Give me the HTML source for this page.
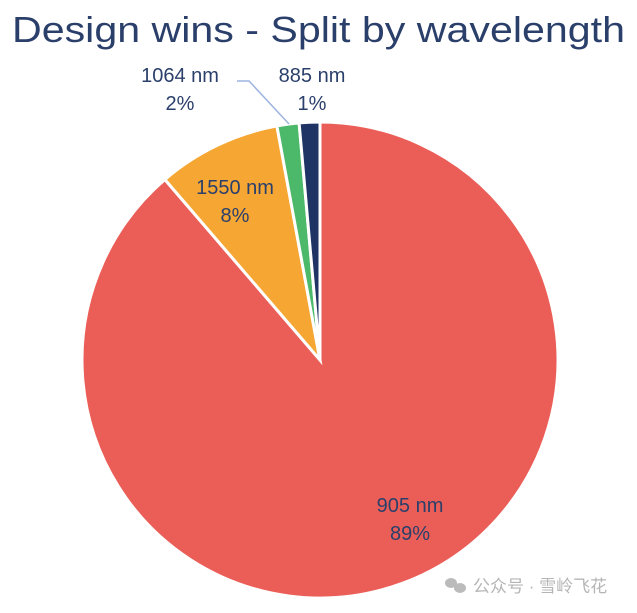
<!DOCTYPE html>
<html><head><meta charset="utf-8">
<style>
html,body{margin:0;padding:0;background:#fff;width:637px;height:613px;overflow:hidden}
svg{display:block;font-family:"Liberation Sans","Noto Sans CJK SC",sans-serif}
</style></head>
<body>
<svg id="chart" width="637" height="613" viewBox="0 0 637 613">
<text x="12" y="42" font-size="36" fill="#2b3f6b" textLength="613" lengthAdjust="spacingAndGlyphs">Design wins - Split by wavelength</text>
<g id="slices"></g>
<g id="labels" font-size="20" fill="#2b3f6b" text-anchor="middle"></g>
<polyline points="237,81 249,81 289,124" fill="none" stroke="#9db3e0" stroke-width="1.5"/>
<g>
<ellipse cx="451" cy="583" rx="6" ry="5" fill="#bbb"/>
<ellipse cx="460" cy="588" rx="6" ry="5" fill="#bbb"/>
<text x="473" y="592" font-size="17" fill="#b5b5b5">公众号 · 雪岭飞花</text>
</g>
</svg>
<script>
const categories = ["905 nm","1550 nm","1064 nm","885 nm"];
const values = [88.7, 8.4, 1.5, 1.4];
const pctLabels = ["89%","8%","2%","1%"];
const colors = ["#eb5e57","#f5a633","#4cb86a","#1f3464"];
const cx=320, cy=360, r=238;
const labelPos=[[410,518],[235,200],[180,88],[312,88]];
const total=values.reduce((a,b)=>a+b,0);
const ns="http://www.w3.org/2000/svg";
const gS=document.getElementById('slices'), gL=document.getElementById('labels');
function pt(a,rr){return [cx+rr*Math.sin(a), cy-rr*Math.cos(a)];}
let a0=0;
values.forEach((v,i)=>{
  const a1=a0+v/total*2*Math.PI;
  const p0=pt(a0,r), p1=pt(a1,r);
  const large=(a1-a0)>Math.PI?1:0;
  const p=document.createElementNS(ns,'path');
  p.setAttribute('d',`M${cx},${cy} L${p0[0]},${p0[1]} A${r},${r} 0 ${large} 1 ${p1[0]},${p1[1]} Z`);
  p.setAttribute('fill',colors[i]);
  p.setAttribute('stroke','#fff');
  p.setAttribute('stroke-width','3');
  
  
  gS.appendChild(p);
  const t=document.createElementNS(ns,'text');
  t.setAttribute('x',labelPos[i][0]);t.setAttribute('y',labelPos[i][1]-6);
  t.textContent=categories[i];
  
  
  gL.appendChild(t);
  const t2=document.createElementNS(ns,'text');
  t2.setAttribute('x',labelPos[i][0]);t2.setAttribute('y',labelPos[i][1]+22);
  t2.textContent=pctLabels[i];
  
  
  gL.appendChild(t2);
  a0=a1;
});
</script>
</body></html>
